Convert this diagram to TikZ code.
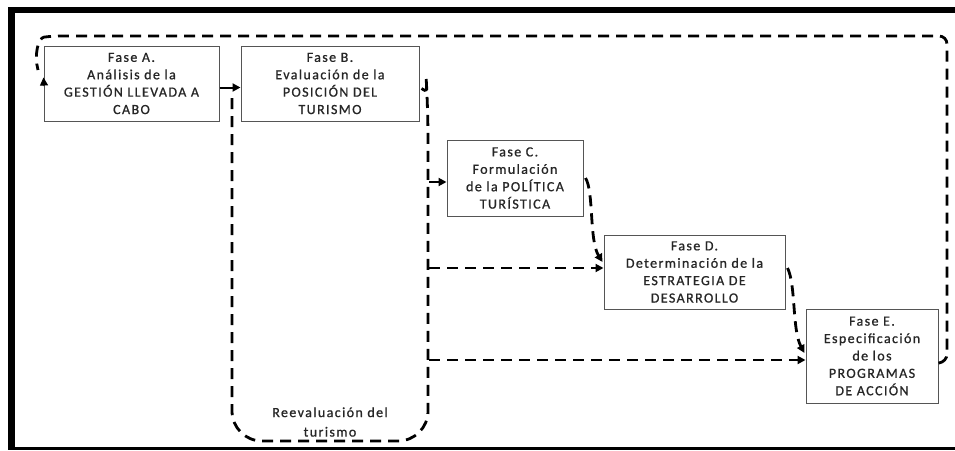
\documentclass[tikz,border=0pt]{standalone}
\usepackage{fontspec}
\setmainfont{Carlito}[LetterSpace=10,FakeBold=0.9]
\usetikzlibrary{arrows.meta,calc}
\definecolor{txt}{HTML}{262626}
\definecolor{boxline}{HTML}{555555}
\begin{document}
\begin{tikzpicture}[x=1pt,y=-1pt,
  phase/.style={draw=boxline,line width=1pt,fill=white,text=txt,align=center,inner sep=0pt,
    font=\fontsize{14}{17.4}\selectfont},
  lbl/.style={text=txt,align=center,inner sep=0pt,font=\fontsize{14}{19.5}\selectfont},
  dsh/.style={line width=2.8pt,dash pattern=on 11pt off 7pt},
  tip/.style={-{Triangle[length=8pt,width=8pt]}},
]
\useasboundingbox (0,0) rectangle (955,450);
\fill[black] (8,7) rectangle (955,13);
\fill[black] (8,7) rectangle (15,450);
\fill[black] (8,447) rectangle (955,450);

\node[phase,minimum width=175pt,minimum height=75pt] (A) at (131.5,83.5)
  {Fase A.\\Análisis de la\\GESTIÓN LLEVADA A\\CABO};
\node[phase,minimum width=178pt,minimum height=75pt] (B) at (330,83.5)
  {Fase B.\\Evaluación de la\\POSICIÓN DEL\\TURISMO};
\node[phase,minimum width=136pt,minimum height=76pt] (C) at (515,178)
  {Fase C.\\Formulación\\de la POLÍTICA\\TURÍSTICA};
\node[phase,minimum width=181pt,minimum height=74pt] (D) at (694.5,272)
  {Fase D.\\Determinación de la\\ESTRATEGIA DE\\DESARROLLO};
\node[phase,minimum width=132pt,minimum height=94pt] (E) at (872,356)
  {Fase E.\\Especificación\\de los\\PROGRAMAS\\DE ACCIÓN};
\node[lbl] (R) at (330,422) {Reevaluación del\\turismo};

% A -> B
\coordinate (ab) at ($(A.east)+(0,4)$);
\draw[line width=2pt,tip] (ab) -- (ab -| B.west);

% reevaluation loop
\draw[dsh,rounded corners=30pt] ($(B.east)+(2,5)$) .. controls (427,92) .. (428,108)
  -- (428,441) -- (232,441) -- (232,92);

% from loop to C, D, E
\coordinate (jc) at (429,182);
\coordinate (jd) at (429,268);
\coordinate (je) at (429,360);
\draw[line width=2.2pt,tip] (jc) -- (jc -| C.west);
\draw[dsh,tip] (jd) -- (jd -| D.west);
\draw[dsh,tip] (je) -- (je -| E.west);

% C -> D, D -> E
\draw[dsh,tip] ($(C.east)+(2,0)$) .. controls (594,192) and (589,240) .. ($(D.west)+(-1,-10)$);
\draw[dsh,tip] ($(D.east)+(2,-4)$) .. controls (796,285) and (792,330) .. ($(E.west)+(-1,-3)$);

% feedback loop E -> A
\coordinate (fa) at ($(A.west)+(0,-6)$);
\draw[dsh,rounded corners=8pt] ($(E.east)+(0,7)$) -- (947,362) -- (947,36) -- (52,36)
  .. controls (38,38) and (34,55) .. (38,70);
\draw[line width=1pt,-{Triangle[length=8pt,width=8pt]}] (44,86) -- (fa);
\end{tikzpicture}
\end{document}
